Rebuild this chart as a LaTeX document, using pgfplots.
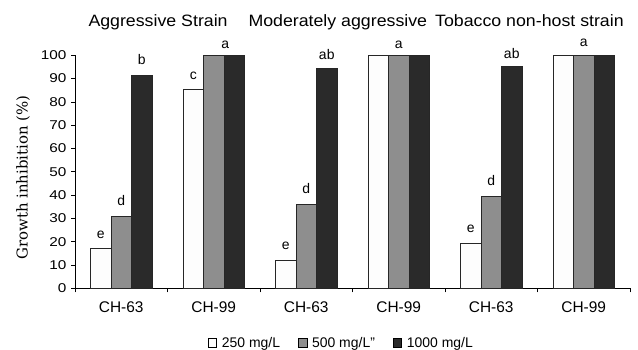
\documentclass[border=0pt]{standalone}
\usepackage{fontspec}
\setmainfont{Liberation Sans}
\newfontfamily\titlefont{Liberation Sans}[FakeStretch=1.08]
\newfontfamily\yfont{Liberation Sans}[FakeStretch=1.2]
\newfontfamily\serifl{DejaVu Serif}
\usepackage{pgfplots}
\usepackage{pgfplotstable}
\pgfplotsset{compat=1.18}
\definecolor{gbar}{HTML}{8E8E8E}
\definecolor{kbar}{HTML}{2A2A2A}
\definecolor{wbar}{HTML}{FDFDFD}
\tikzset{lbl/.style={anchor=base, inner sep=0pt, font=\fontsize{14}{16}\selectfont}}

\pgfplotstableread{
x w g k
0 17 31 91.5
1 85.3 100 100
2 12 36 94.5
3 100 100 100
4 19.4 39.4 95.1
5 100 100 100
}\data

\begin{document}
\begin{tikzpicture}
\useasboundingbox (0,0) rectangle (638bp,350bp);
\begin{axis}[
  at={(75bp,61.7bp)}, anchor=south west,
  scale only axis, width=555bp, height=233bp,
  xmin=-0.5, xmax=5.5, ymin=0, ymax=100,
  clip=false,
  ybar=0pt, bar width=20.5bp,
  axis x line=bottom, axis y line=left,
  axis line style={-, black, line width=0.6bp},
  xtick={0,1,2,3,4,5},
  xticklabels={CH-63,CH-99,CH-63,CH-99,CH-63,CH-99},
  major x tick style={draw=none},
  minor xtick={-0.5,0.5,1.5,2.5,3.5,4.5,5.5},
  minor x tick style={black, line width=0.6bp},
  ytick={0,10,...,100},
  y tick style={black, line width=0.6bp},
  tick align=outside,
  major tick length=4bp, minor tick length=4bp,
  /pgf/number format/assume math mode=true,
  yticklabel style={font=\yfont\fontsize{12.8}{14}\selectfont, xshift=-1bp},
  xticklabel style={font=\fontsize{15.5}{18}\selectfont, yshift=-6bp},
  legend columns=3,
  legend style={at={(0.48,-0.235)}, anchor=center, draw=none,
    font=\fontsize{14}{16}\selectfont,
    /tikz/every odd column/.append style={column sep=3bp},
    /tikz/every even column/.append style={column sep=16bp}},
  legend image code/.code={\draw[#1, draw=black, line width=0.5bp] (0bp,-4bp) rectangle (8.5bp,4.5bp);},
]
\addplot[fill=wbar, draw=black!85, line width=0.5bp] table[x=x,y=w]{\data};
\addplot[fill=gbar, draw=black!85, line width=0.5bp] table[x=x,y=g]{\data};
\addplot[fill=kbar, draw=black!85, line width=0.5bp] table[x=x,y=k]{\data};
\legend{250 mg/L, 500 mg/L", 1000 mg/L}
\node[lbl, xshift=-20.5bp, yshift=10.5bp] at (axis cs:0,17) {e};
\node[lbl, yshift=10.5bp] at (axis cs:0,31) {d};
\node[lbl, xshift=20.5bp, yshift=10.5bp] at (axis cs:0,91.5) {b};
\node[lbl, xshift=-20.5bp, yshift=10.5bp] at (axis cs:1,85.3) {c};
\node[lbl, xshift=11.5bp, yshift=7bp] at (axis cs:1,100) {a};
\node[lbl, xshift=-20.5bp, yshift=10.5bp] at (axis cs:2,12) {e};
\node[lbl, yshift=10.5bp] at (axis cs:2,36) {d};
\node[lbl, xshift=20.5bp, yshift=9bp] at (axis cs:2,94.5) {ab};
\node[lbl, yshift=7bp] at (axis cs:3,100) {a};
\node[lbl, xshift=-20.5bp, yshift=10.5bp] at (axis cs:4,19.4) {e};
\node[lbl, yshift=10.5bp] at (axis cs:4,39.4) {d};
\node[lbl, xshift=20.5bp, yshift=8bp] at (axis cs:4,95.1) {ab};
\node[lbl, yshift=9bp] at (axis cs:5,100) {a};
\end{axis}
\node[rotate=90, font=\serifl\fontsize{15}{18}\selectfont] at (23bp,172.5bp) {Growth inhibition (\%)};
\node[anchor=base west, inner sep=0pt, font=\titlefont\fontsize{16.5}{19}\selectfont] at (88.3bp,323.3bp) {Aggressive Strain};
\node[anchor=base west, inner sep=0pt, font=\titlefont\fontsize{16.5}{19}\selectfont] at (248.3bp,323.3bp) {Moderately aggressive};
\node[anchor=base west, inner sep=0pt, font=\titlefont\fontsize{16.5}{19}\selectfont] at (435bp,323.3bp) {Tobacco non-host strain};
\end{tikzpicture}
\end{document}
